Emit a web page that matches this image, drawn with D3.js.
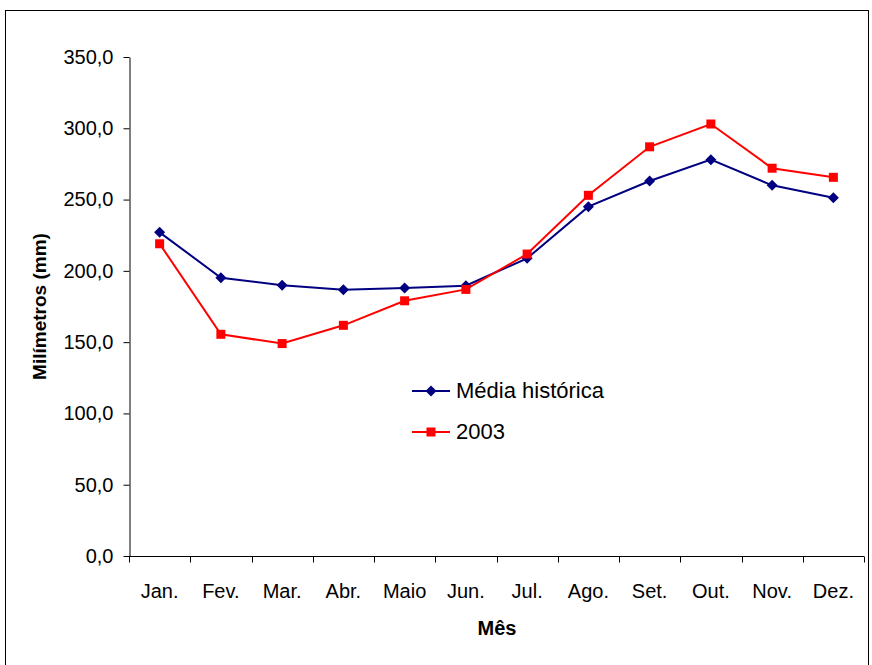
<!DOCTYPE html>
<html>
<head>
<meta charset="utf-8">
<script src="https://cdn.jsdelivr.net/npm/d3@7"></script>
<style>
  html, body { margin: 0; padding: 0; background: #fff; }
  svg { display: block; }
</style>
</head>
<body>
<svg id="chart" width="872" height="665"></svg>
<script>
// Monthly rainfall (mm): historical mean vs. 2003
const months = ["Jan.", "Fev.", "Mar.", "Abr.", "Maio", "Jun.", "Jul.", "Ago.", "Set.", "Out.", "Nov.", "Dez."];
const mediaHistorica = [227.0, 195.2, 189.9, 186.8, 188.0, 189.6, 208.8, 245.0, 263.0, 278.0, 260.0, 251.3];
const ano2003 = [219.0, 155.5, 149.0, 161.8, 179.0, 187.0, 211.8, 253.0, 287.0, 303.0, 272.0, 265.6];
const yTicks = [0, 50, 100, 150, 200, 250, 300, 350];

const series = [
  { name: "Média histórica", values: mediaHistorica, color: "#000080", marker: "diamond" },
  { name: "2003", values: ano2003, color: "#FF0000", marker: "square" }
];

const svg = d3.select("#chart");
const font = "Arial, 'Liberation Sans', sans-serif";

// Outer frame
svg.append("rect")
  .attr("x", 5.5).attr("y", 10.5)
  .attr("width", 863).attr("height", 670)
  .attr("fill", "none").attr("stroke", "#000").attr("stroke-width", 1);

const plot = { left: 129, right: 864, top: 57, bottom: 556 };

const x = d3.scaleBand().domain(months).range([plot.left, plot.right]);
const y = d3.scaleLinear().domain([0, 350]).range([plot.bottom, plot.top]);

const fmt = v => d3.format(".1f")(v).replace(".", ",");

// Y axis
const yAxis = svg.append("g")
  .attr("transform", `translate(${plot.left + 0.5},0)`)
  .call(d3.axisLeft(y).tickValues(yTicks).tickFormat(fmt).tickSize(6).tickSizeOuter(0).tickPadding(10));
yAxis.select(".domain").attr("stroke", "#000");
yAxis.selectAll(".tick line").attr("stroke", "#000");
yAxis.selectAll(".tick text")
  .attr("font-family", font).attr("font-size", 20).attr("fill", "#000");

// X axis: tick marks at band edges, labels at band centres
const xg = svg.append("g").attr("transform", `translate(0,${plot.bottom + 0.5})`);
xg.append("line")
  .attr("x1", plot.left).attr("x2", plot.right)
  .attr("stroke", "#000");
const edges = months.map(m => x(m)).concat([plot.right]);
xg.selectAll("line.edge").data(edges).enter().append("line")
  .attr("class", "edge")
  .attr("x1", d => Math.round(d) + 0.5).attr("x2", d => Math.round(d) + 0.5)
  .attr("y1", 0).attr("y2", 6)
  .attr("stroke", "#000");
xg.selectAll("text").data(months).enter().append("text")
  .attr("x", d => x(d) + x.bandwidth() / 2)
  .attr("y", 41.5)
  .attr("text-anchor", "middle")
  .attr("font-family", font).attr("font-size", 20).attr("fill", "#000")
  .text(d => d);

// Axis titles
svg.append("text")
  .attr("x", 497).attr("y", 635)
  .attr("text-anchor", "middle")
  .attr("font-family", font).attr("font-size", 20).attr("font-weight", "bold")
  .text("Mês");
svg.append("text")
  .attr("transform", `translate(46,${(plot.top + plot.bottom) / 2}) rotate(-90)`)
  .attr("text-anchor", "middle")
  .attr("font-family", font).attr("font-size", 19).attr("font-weight", "bold")
  .text("Milímetros (mm)");

const cx = i => x(months[i]) + x.bandwidth() / 2;
const line = d3.line().x((d, i) => cx(i)).y(d => y(d));

function drawMarker(g, type, color, px, py) {
  if (type === "diamond") {
    g.append("path")
      .attr("d", `M${px},${py - 5.5}L${px + 5.5},${py}L${px},${py + 5.5}L${px - 5.5},${py}Z`)
      .attr("fill", color);
  } else {
    g.append("rect")
      .attr("x", px - 4.5).attr("y", py - 4.5)
      .attr("width", 9).attr("height", 9)
      .attr("fill", color);
  }
}

series.forEach(s => {
  const g = svg.append("g");
  g.append("path")
    .datum(s.values)
    .attr("d", line)
    .attr("fill", "none")
    .attr("stroke", s.color)
    .attr("stroke-width", 2);
  s.values.forEach((v, i) => drawMarker(g, s.marker, s.color, cx(i), y(v)));
});

// Legend
const legend = svg.append("g");
series.forEach((s, i) => {
  const ly = 391 + i * 41;
  legend.append("line")
    .attr("x1", 412).attr("x2", 450).attr("y1", ly).attr("y2", ly)
    .attr("stroke", s.color).attr("stroke-width", 2);
  drawMarker(legend, s.marker, s.color, 431, ly);
  legend.append("text")
    .attr("x", 456).attr("y", ly + 6.5)
    .attr("font-family", font).attr("font-size", 22).attr("fill", "#000")
    .text(s.name);
});
</script>
</body>
</html>
